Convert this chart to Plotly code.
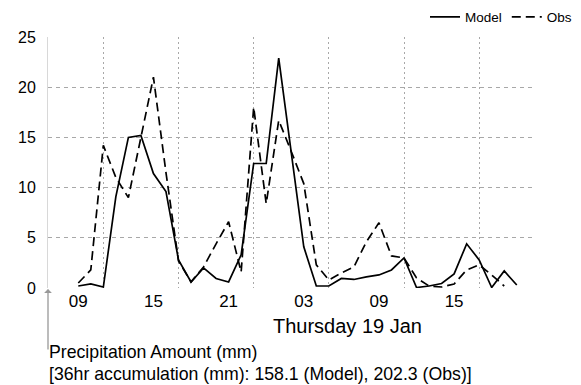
import pandas as pd
import plotly.graph_objects as go

# hourly times, 36 hours starting Wed 18 Jan 2017 09:00
start_time = "2017-01-18 09:00"
n_hours = 36
times = pd.date_range(start_time, periods=n_hours, freq="h")

model = [0.2, 0.4, 0.1, 9.1, 15.0, 15.2, 11.4, 9.6, 2.8, 0.6, 2.0, 0.95,
         0.6, 3.3, 12.4, 12.4, 22.9, 13.5, 4.1, 0.2, 0.2, 0.95, 0.85, 1.1,
         1.3, 1.8, 3.0, 0.05, 0.2, 0.45, 1.4, 4.4, 2.8, 0.05, 1.7, 0.3]
obs = [0.5, 1.8, 14.2, 11.0, 9.0, 15.0, 21.0, 11.5, 2.7, 0.6, 2.1, 4.4,
       6.6, 1.6, 18.0, 8.4, 16.7, 13.6, 10.4, 2.3, 0.8, 1.5, 2.1, 4.6,
       6.5, 3.2, 3.0, 1.0, 0.2, 0.1, 0.4, 1.8, 2.3, 1.3, 0.2, None]

tick_times = ["2017-01-18 09:00", "2017-01-18 15:00", "2017-01-18 21:00",
              "2017-01-19 03:00", "2017-01-19 09:00", "2017-01-19 15:00"]
tick_labels = ["09", "15", "21", "03", "09", "15"]
y_ticks = [0, 5, 10, 15, 20, 25]

day_label = "Thursday 19 Jan"
title_1 = "Precipitation Amount (mm)"
title_2 = "[36hr accumulation (mm): 158.1 (Model), 202.3 (Obs)]"

FONT = "Liberation Sans, Arial, sans-serif"

fig = go.Figure()
fig.add_trace(go.Scatter(x=times, y=model, mode="lines", name="Model",
                         line=dict(color="black", width=1.7)))
fig.add_trace(go.Scatter(x=times, y=obs, mode="lines", name="Obs",
                         line=dict(color="black", width=1.7, dash="9px,5px")))

W, H = 581, 385
ml, mr, mt, mb = 48, 49, 37, 97
ph = H - mt - mb

def py(p):
    return (H - mb - p) / ph

def px(p):
    return (p - ml) / (W - ml - mr)

fig.update_layout(
    width=W, height=H,
    margin=dict(l=ml, r=mr, t=mt, b=mb, autoexpand=False),
    paper_bgcolor="white", plot_bgcolor="white",
    font=dict(family=FONT, color="black"),
    showlegend=True,
    legend=dict(orientation="h", x=px(577), xanchor="right", y=py(17),
                yanchor="middle", font=dict(size=13.5), bgcolor="rgba(0,0,0,0)",
                itemwidth=30, tracegroupgap=0),
    xaxis=dict(
        type="date",
        range=["2017-01-18 06:35", "2017-01-19 21:13"],
        tickmode="array", tickvals=tick_times, ticktext=tick_labels,
        tickfont=dict(size=17), showgrid=False, zeroline=False, showline=False,
        ticks="", ticklabelstandoff=1,
        minor=dict(tick0="2017-01-18 11:00", dtick=6 * 3600 * 1000,
                   showgrid=True, gridcolor="#a8a8a8", griddash="2px,3px",
                   gridwidth=1.3, ticks=""),
    ),
    yaxis=dict(
        range=[0, 25], tickmode="array", tickvals=y_ticks,
        tickfont=dict(size=16), showgrid=True, gridcolor="#a8a8a8",
        griddash="4px,4px", gridwidth=1.3, zeroline=False,
        showline=True, linecolor="#d8d8d8", linewidth=1, ticks="",
        ticklabelstandoff=8,
    ),
    annotations=[
        dict(text=day_label, xref="paper", yref="paper", x=px(347.5), y=py(326),
             xanchor="center", yanchor="middle", showarrow=False,
             font=dict(size=20)),
        dict(text=title_1, xref="paper", yref="paper", x=px(47), y=py(352),
             xanchor="left", yanchor="middle", showarrow=False,
             font=dict(size=17.7)),
        dict(text=title_2, xref="paper", yref="paper", x=px(47), y=py(374),
             xanchor="left", yanchor="middle", showarrow=False,
             font=dict(size=17.7)),
        dict(text="", xref="paper", yref="paper", x=px(48), y=py(289),
             ax=0, ay=62, axref="pixel", ayref="pixel",
             showarrow=True, arrowhead=1, arrowsize=1, arrowwidth=1.3,
             arrowcolor="#999999"),
    ],
)

fig.write_html("out.html", config={"displayModeBar": False},
               post_script="document.body.style.margin='0';document.body.style.overflow='hidden';")
